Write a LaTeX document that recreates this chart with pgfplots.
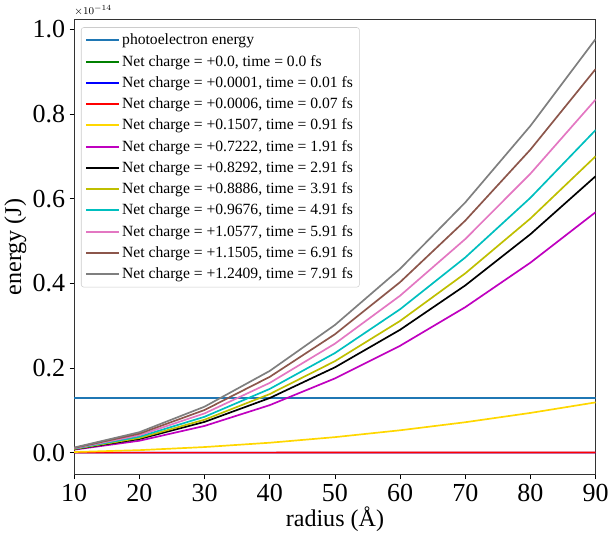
\documentclass[border=0pt]{standalone}
\usepackage{pgfplots}
\pgfplotsset{compat=1.18}
\usepackage{fontspec}
\setmainfont{Liberation Serif}
\definecolor{tabblue}{HTML}{1F77B4}
\definecolor{mplgreen}{rgb}{0,0.5,0}
\definecolor{mplgold}{HTML}{FFD700}
\definecolor{mplm}{rgb}{0.75,0,0.75}
\definecolor{mply}{rgb}{0.75,0.75,0}
\definecolor{mplc}{rgb}{0,0.75,0.75}
\definecolor{tabpink}{HTML}{E377C2}
\definecolor{tabbrown}{HTML}{8C564B}
\definecolor{tabgray}{HTML}{7F7F7F}
\begin{document}
\begin{tikzpicture}
\begin{axis}[
  scale only axis,
  width=401pt, height=350pt,
  xmin=10, xmax=90, ymin=-0.052, ymax=1.023,
  xtick={10,20,...,90},
  ytick={0,0.2,0.4,0.6,0.8,1.0},
  yticklabel style={/pgf/number format/.cd,fixed,fixed zerofill,precision=1},
  scaled y ticks=false,
  /pgf/number format/assume math mode=true,
  tick label style={font=\fontsize{20}{22}\selectfont},
  label style={font=\fontsize{18.5}{20}\selectfont},
  xlabel={radius (Å)},
  ylabel={energy (J)},
  ylabel style={yshift=-2pt},
  xlabel style={yshift=3pt},
  tick align=outside, tick pos=left,
  major tick length=3.5pt,
  axis line style={black!80, line width=0.6pt},
  every tick/.style={black, line width=0.6pt},
  legend cell align=left,
  legend style={at={(0.013,0.983)}, anchor=north west, draw=black!20, rounded corners=2pt,
    font=\fontsize{12}{13}\selectfont, row sep=2.4pt, inner sep=3pt,
    /tikz/every even column/.append style={column sep=3pt}},
  legend image code/.code={\draw[#1, line width=1.5pt] (0pt,0pt) -- (25pt,0pt);},
  every axis plot/.append style={line width=1.3pt},
  clip mode=individual,
]
\addplot[tabblue] coordinates {(10,0.1298) (90,0.1298)};
\addlegendentry{photoelectron energy}
\addplot[mplgreen] coordinates {(10,0) (20,0) (30,0) (40,0) (50,0) (60,0) (70,0) (80,0) (90,0)};
\addlegendentry{Net charge = +0.0, time = 0.0 fs}
\addplot[blue] coordinates {(10,0.000001) (20,0.000004) (30,0.00001) (40,0.00002) (50,0.00002) (60,0.00004) (70,0.00005) (80,0.00006) (90,0.00008)};
\addlegendentry{Net charge = +0.0001, time = 0.01 fs}
\addplot[red] coordinates {(10,0.00001) (20,0.00002) (30,0.00005) (40,0.00009) (50,0.00015) (60,0.00021) (70,0.00028) (80,0.00037) (90,0.00047)};
\addlegendentry{Net charge = +0.0006, time = 0.07 fs}
\addplot[mplgold] coordinates {(10,0.00147) (20,0.00586) (30,0.0132) (40,0.0234) (50,0.0366) (60,0.0528) (70,0.0718) (80,0.0938) (90,0.1187)};
\addlegendentry{Net charge = +0.1507, time = 0.91 fs}
\addplot[mplm] coordinates {(10,0.00701) (20,0.02805) (30,0.0631) (40,0.1122) (50,0.1753) (60,0.2524) (70,0.3436) (80,0.4488) (90,0.568)};
\addlegendentry{Net charge = +0.7222, time = 1.91 fs}
\addplot[black] coordinates {(10,0.00806) (20,0.03225) (30,0.0726) (40,0.1290) (50,0.2015) (60,0.2902) (70,0.3950) (80,0.5160) (90,0.653)};
\addlegendentry{Net charge = +0.8292, time = 2.91 fs}
\addplot[mply] coordinates {(10,0.00864) (20,0.03457) (30,0.0778) (40,0.1383) (50,0.2160) (60,0.3111) (70,0.4235) (80,0.5531) (90,0.700)};
\addlegendentry{Net charge = +0.8886, time = 3.91 fs}
\addplot[mplc] coordinates {(10,0.00941) (20,0.03763) (30,0.0847) (40,0.1505) (50,0.2352) (60,0.3387) (70,0.4610) (80,0.6021) (90,0.762)};
\addlegendentry{Net charge = +0.9676, time = 4.91 fs}
\addplot[tabpink] coordinates {(10,0.01030) (20,0.04119) (30,0.0927) (40,0.1647) (50,0.2574) (60,0.3707) (70,0.5045) (80,0.6590) (90,0.834)};
\addlegendentry{Net charge = +1.0577, time = 5.91 fs}
\addplot[tabbrown] coordinates {(10,0.01119) (20,0.04474) (30,0.1007) (40,0.1790) (50,0.2796) (60,0.4027) (70,0.5481) (80,0.7159) (90,0.906)};
\addlegendentry{Net charge = +1.1505, time = 6.91 fs}
\addplot[tabgray] coordinates {(10,0.01206) (20,0.04825) (30,0.1086) (40,0.1930) (50,0.3015) (60,0.4342) (70,0.5910) (80,0.7720) (90,0.977)};
\addlegendentry{Net charge = +1.2409, time = 7.91 fs}
\end{axis}
\node[anchor=base west, font=\fontsize{8.5}{9}\selectfont, inner sep=0pt] at (0pt,354pt) {$\times10^{-14}$};
\path (0pt,365pt) -- (1pt,365pt);
\end{tikzpicture}
\end{document}
